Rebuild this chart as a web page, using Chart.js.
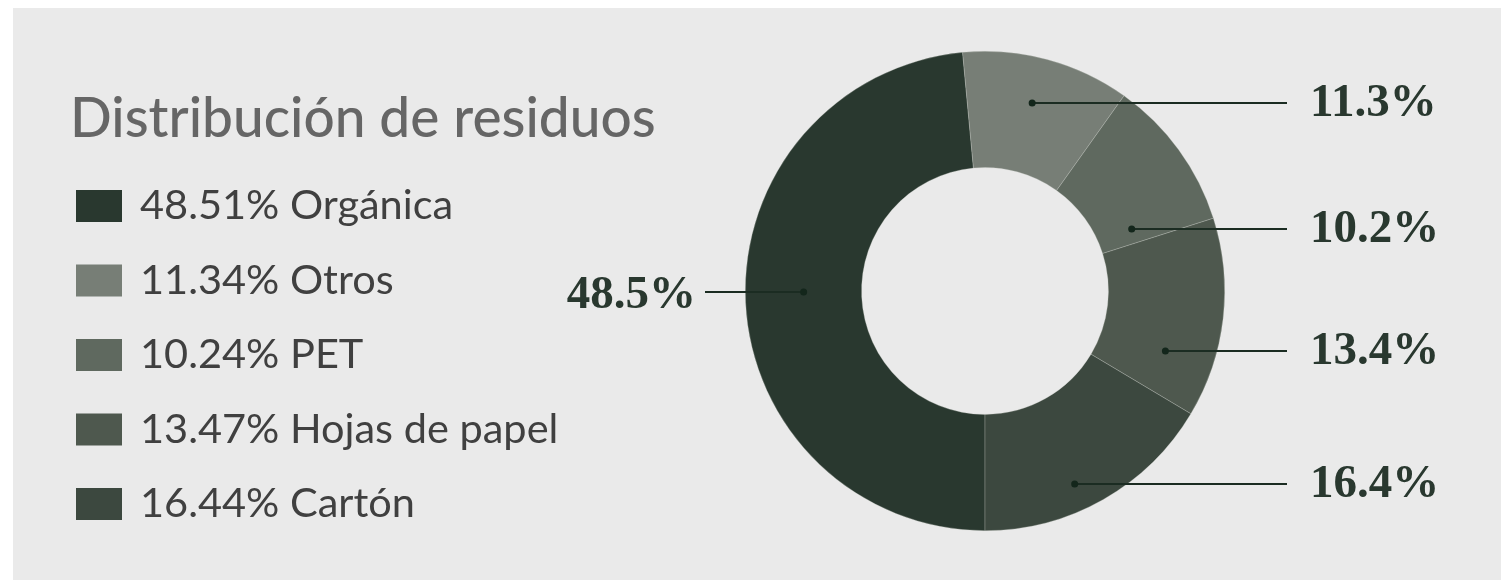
<!DOCTYPE html>
<html>
<head>
<meta charset="utf-8">
<script src="https://cdn.jsdelivr.net/npm/chart.js@4.4.1/dist/chart.umd.min.js"></script>
<style>
    html, body {
        margin: 0;
        padding: 0;
        background: #ffffff;
    }
    #panel {
        position: absolute;
        left: 13px;
        top: 8px;
        width: 1488px;
        height: 572px;
        background: #eaeaea;
    }
    #wrap {
        position: absolute;
        left: 0;
        top: 0;
        width: 1501px;
        height: 580px;
    }
</style>
</head>
<body>
<div id="panel"></div>
<div id="wrap"><canvas id="waste-chart"></canvas></div>
<script>
// data
const title = 'Distribución de residuos';
const categories = ['Orgánica', 'Otros', 'PET', 'Hojas de papel', 'Cartón'];
const values = [48.51, 11.34, 10.24, 13.47, 16.44];
const colors = ['#29382f', '#777e76', '#5f695f', '#4e584e', '#3c483f'];

// where the callout labels sit (y in px) and on which side
const labelY = [292, 103, 229, 351, 484];
const labelSide = ['left', 'right', 'right', 'right', 'right'];

// callouts cut to one decimal (13.47 -> 13.4), like the original
function shortPct(v) {
    return (Math.floor(v * 10) / 10).toFixed(1) + '%';
}

// draws the title, the legend on the left and the callouts with leader lines
const overlay = {
    id: 'overlay',
    afterDraw(chart) {
        const ctx = chart.ctx;
        const area = chart.chartArea;
        ctx.save();

        // title
        ctx.fillStyle = '#666666';
        ctx.font = '500 55px Lato';
        ctx.textBaseline = 'alphabetic';
        ctx.textAlign = 'left';
        ctx.fillText(title, 70, 137);

        // legend
        for (let i = 0; i < categories.length; i++) {
            let top = 190 + i * 74.5;
            ctx.fillStyle = colors[i];
            ctx.fillRect(76, top, 46, 32);
            ctx.fillStyle = '#404040';
            ctx.font = '41.5px Lato';
            ctx.fillText(values[i].toFixed(2) + '% ' + categories[i], 140, top + 29);
        }

        // callouts
        const arcs = chart.getDatasetMeta(0).data;
        for (let i = 0; i < arcs.length; i++) {
            let arc = arcs[i];
            let mid = (arc.startAngle + arc.endAngle) / 2;
            let r = (arc.innerRadius + arc.outerRadius) / 2;
            let dotX = arc.x + Math.cos(mid) * r;
            let y = labelY[i];
            let lineEnd = labelSide[i] === 'right' ? area.right + 62 : area.left - 40;

            ctx.strokeStyle = '#1b2c22';
            ctx.lineWidth = 2;
            ctx.beginPath();
            ctx.moveTo(dotX, y);
            ctx.lineTo(lineEnd, y);
            ctx.stroke();

            ctx.fillStyle = '#13261b';
            ctx.beginPath();
            ctx.arc(dotX, y, 3.5, 0, Math.PI * 2);
            ctx.fill();

            ctx.fillStyle = '#29382f';
            ctx.font = 'bold 47px "Liberation Serif"';
            if (labelSide[i] === 'right') {
                ctx.textAlign = 'left';
                ctx.fillText(shortPct(values[i]), area.right + 85, y + 13);
            } else {
                ctx.textAlign = 'right';
                ctx.fillText(shortPct(values[i]), area.left - 49, y + 16);
            }
        }
        ctx.restore();
    }
};

new Chart(document.querySelector('#waste-chart'), {
    type: 'doughnut',
    data: {
        labels: categories,
        datasets: [{
            data: values,
            backgroundColor: colors,
            borderColor: 'rgba(200, 205, 198, 0.5)',
            borderWidth: 0.6,
        }]
    },
    options: {
        responsive: true,
        maintainAspectRatio: false,
        animation: false,
        rotation: 180,
        cutout: '51.5%',
        layout: {
            padding: {left: 745, right: 276, top: 51, bottom: 49}
        },
        plugins: {
            legend: {display: false},
            tooltip: {enabled: false},
        }
    },
    plugins: [overlay]
});
</script>
</body>
</html>
